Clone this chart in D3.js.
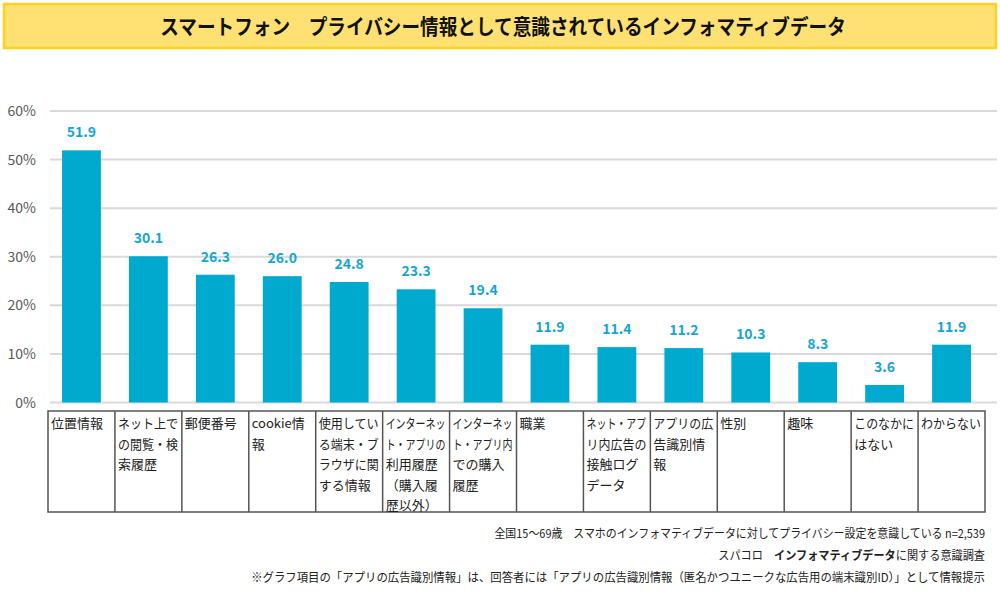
<!DOCTYPE html>
<html><head><meta charset="utf-8">
<script src="https://cdn.jsdelivr.net/npm/d3@7"></script>
<style>body{margin:0;background:#fff;} svg{display:block;font-family:"Noto Sans CJK JP","Noto Sans",sans-serif;}</style>
</head><body>
<svg id="c" width="1000" height="603"></svg>
<script>
const title = "スマートフォン　プライバシー情報として意識されているインフォマティブデータ";
const categories = [
  ["位置情報"],
  ["ネット上で","の閲覧・検","索履歴"],
  ["郵便番号"],
  ["cookie情","報"],
  ["使用してい","る端末・ブ","ラウザに関","する情報"],
  ["インターネッ","ト・アプリの","利用履歴","（購入履","歴以外）"],
  ["インターネッ","ト・アプリ内","での購入","履歴"],
  ["職業"],
  ["ネット・アプ","リ内広告の","接触ログ","データ"],
  ["アプリの広","告識別情","報"],
  ["性別"],
  ["趣味"],
  ["このなかに","はない"],
  ["わからない"]
];
const values = [51.9, 30.1, 26.3, 26.0, 24.8, 23.3, 19.4, 11.9, 11.4, 11.2, 10.3, 8.3, 3.6, 11.9];
const yTicks = [0, 10, 20, 30, 40, 50, 60];
const notes = [
  "全国15～69歳　スマホのインフォマティブデータに対してプライバシー設定を意識している n=2,539",
  "※グラフ項目の「アプリの広告識別情報」は、回答者には「アプリの広告識別情報（匿名かつユニークな広告用の端末識別ID）」として情報提示"
];

const svg = d3.select("#c");
// place a text inside a group; scale horizontally so its width is at most max (or exactly target)
function squeezed(parent, px, py, anchor, build, max, exact){
  const g = parent.append("g");
  const t = g.append("text").attr("x",0).attr("y",0).attr("text-anchor",anchor);
  build(t);
  const w = t.node().getComputedTextLength();
  let s = 1;
  if (exact) s = max / w; else if (w > max) s = max / w;
  g.attr("transform",`translate(${px},${py}) scale(${s},1)`);
  return t;
}
// title box
svg.append("rect").attr("x",4).attr("y",4).attr("width",992).attr("height",44)
  .attr("fill","#FFE072").attr("stroke","#FFD21F").attr("stroke-width",2.5);
squeezed(svg, 503, 34, "middle", t=>t.attr("font-size",21).attr("font-weight","bold").attr("fill","#111").text(title), 686, true);

const idx = d3.range(categories.length);
const x = d3.scaleBand().domain(idx).range([48,985]).paddingInner(0.42).paddingOuter(0.21);
const xb = d3.scaleBand().domain(idx).range([48,985]);
const y = d3.scaleLinear().domain([0,60]).range([402.5,111]);

// gridlines
svg.append("g").selectAll("line").data(yTicks).join("line")
  .attr("x1",50).attr("x2",997).attr("y1",d=>y(d)).attr("y2",d=>y(d))
  .attr("stroke","#d9d9d9").attr("stroke-width",2);
// y labels
svg.append("g").selectAll("text").data(yTicks).join("text")
  .attr("x",36).attr("y",d=>y(d)+5).attr("text-anchor","end")
  .attr("font-size",14).attr("fill","#595959").text(d=>d+"%");

// bars
svg.append("g").selectAll("rect").data(values).join("rect")
  .attr("x",(d,i)=>x(i)).attr("width",x.bandwidth())
  .attr("y",d=>y(d)).attr("height",d=>y(0)-y(d)).attr("fill","#00AACE");
// value labels
svg.append("g").selectAll("text").data(values).join("text")
  .attr("x",(d,i)=>x(i)+x.bandwidth()/2).attr("y",d=>y(d)-13)
  .attr("text-anchor","middle").attr("font-size",14).attr("font-weight","bold")
  .attr("fill","#14A6D2").text(d=>d.toFixed(1));

// category table
const tTop = 411, tBot = 512;
const tg = svg.append("g");
tg.append("rect").attr("x",48).attr("y",tTop).attr("width",937).attr("height",tBot-tTop)
  .attr("fill","none").attr("stroke","#555").attr("stroke-width",1.5);
tg.selectAll("line").data(idx.slice(1)).join("line")
  .attr("x1",i=>xb(i)).attr("x2",i=>xb(i)).attr("y1",tTop).attr("y2",tBot)
  .attr("stroke","#555").attr("stroke-width",1.5);
categories.forEach((lines,i)=>{
  lines.forEach((l,k)=>{
    squeezed(tg, xb(i)+3, tTop+17+k*20.5, "start",
      t=>t.attr("font-size",13).attr("fill","#222").text(l), 60, false);
  });
});

// notes
squeezed(svg, 985, 538, "end", t=>t.attr("font-size",12).attr("fill","#222").text(notes[0]), 491, true);
squeezed(svg, 985, 560, "end", t=>{
  t.attr("font-size",12).attr("fill","#222");
  t.append("tspan").text("スパコロ　");
  t.append("tspan").attr("font-weight","bold").text("インフォマティブデータ");
  t.append("tspan").text("に関する意識調査");
}, 267, true);
squeezed(svg, 985, 582, "end", t=>t.attr("font-size",12).attr("fill","#222").text(notes[1]), 735, true);
</script>
</body></html>
